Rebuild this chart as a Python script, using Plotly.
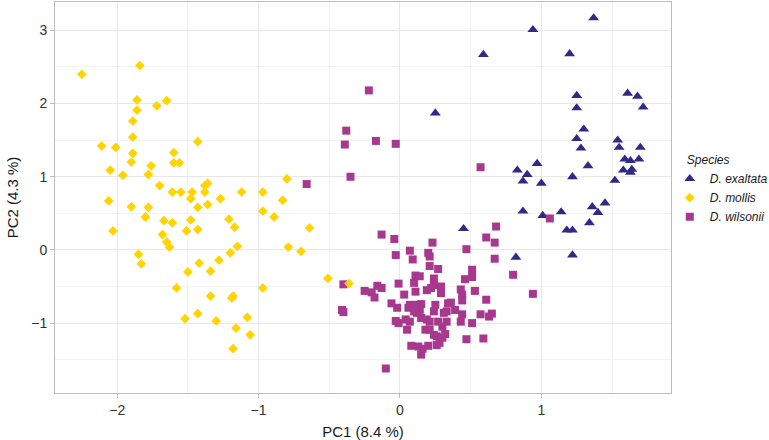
import plotly.graph_objects as go

# ---------------- data ----------------
species_names = ["D. exaltata", "D. mollis", "D. wilsonii"]

exaltata_pc1 = [1.37, 0.94, 0.59, 1.20, 1.25, 1.61, 1.68, 1.72, 1.25, 1.30, 1.25, 1.54, 1.28, 1.55,
                1.70, 1.59, 1.63, 1.69, 0.97, 1.33, 0.83, 0.90, 0.87, 1.00, 1.22, 1.58, 1.64, 1.63,
                1.52, 0.87, 1.01, 1.14, 1.36, 1.45, 1.40, 1.34, 1.18, 1.22, 0.45, 0.82, 1.22, 0.25]
exaltata_pc2 = [3.17, 3.01, 2.67, 2.68, 2.11, 2.14, 2.10, 1.95, 1.94, 1.65, 1.52, 1.50, 1.39, 1.40,
                1.40, 1.24, 1.22, 1.24, 1.18, 1.15, 1.09, 1.03, 0.94, 0.91, 1.00, 1.09, 1.10, 1.06,
                0.95, 0.53, 0.47, 0.52, 0.59, 0.64, 0.51, 0.37, 0.27, 0.27, 0.29, -0.10, -0.07, 1.87]

mollis_pc1 = [-2.25, -1.84, -1.86, -1.86, -1.65, -1.72, -1.89, -1.89, -2.11, -2.01, -1.89, -1.90,
              -1.43, -1.60, -1.60, -1.56, -2.05, -1.96, -1.76, -1.78, -1.70, -1.61, -1.55, -1.47,
              -1.48, -1.43, -2.06, -1.90, -1.78, -1.80, -1.67, -1.61, -1.48, -1.51, -1.43, -2.03,
              -1.68, -1.65, -1.63, -1.85, -1.83, -1.42, -1.50, -1.58, -1.52, -1.43, -1.38, -1.36,
              -1.38, -1.36, -1.27, -1.12, -0.97, -0.83, -0.97, -0.89, -1.21, -1.17, -0.64, -1.15,
              -1.20, -0.79, -0.70, -1.34, -1.28, -0.97, -0.51, -0.36, -1.34, -1.19, -1.18, -1.30,
              -1.08, -1.16, -1.06, -1.18, -0.80]
mollis_pc2 = [2.40, 2.52, 2.05, 1.91, 2.04, 1.97, 1.76, 1.54, 1.42, 1.40, 1.32, 1.20,
              1.48, 1.33, 1.19, 1.19, 1.09, 1.02, 1.15, 1.03, 0.88, 0.79, 0.79, 0.79,
              0.70, 0.58, 0.67, 0.59, 0.58, 0.45, 0.40, 0.37, 0.41, 0.26, 0.28, 0.26,
              0.21, 0.11, 0.04, -0.06, -0.19, -0.18, -0.30, -0.52, -0.94, -0.87, 0.88, 0.91,
              0.79, 0.62, 0.70, 0.79, 0.79, 0.68, 0.53, 0.45, 0.42, 0.31, 0.30, 0.05,
              -0.04, 0.04, -0.02, -0.29, -0.14, -0.52, -0.39, -0.46, -0.63, -0.66, -0.63, -0.97,
              -0.92, -1.07, -1.16, -1.35, 0.97]

wilsonii_pc1 = [-0.22, -0.38, -0.39, -0.17, -0.03, -0.35, -0.66, 0.57, 1.06, 0.68, 0.61, 0.67,
                0.47, 0.67, 0.80, 0.94, -0.13, -0.04, 0.23, -0.40, -0.41, -0.40, -0.10,
                -0.03, 0.07, 0.09, 0.20, 0.21, 0.21, 0.27, 0.11, 0.14, 0.24, 0.10, -0.01,
                0.24, 0.22, 0.11, 0.19, 0.29, -0.16, -0.25, -0.20, -0.13, -0.18, 0.03, -0.06,
                -0.02, 0.07, 0.06, 0.11, 0.15, 0.14, 0.10, 0.12, 0.25, 0.24, 0.31, 0.34,
                -0.03, -0.01, 0.04, 0.07, 0.05, 0.15, 0.19, 0.21, 0.27, 0.30, 0.33, 0.18,
                0.21, 0.24, 0.26, 0.30, 0.08, 0.13, 0.16, 0.15, 0.20, 0.26,
                0.51, 0.51, 0.46, 0.29, 0.43, 0.44, 0.44, 0.53, 0.61, 0.36, 0.33, 0.39,
                0.44, 0.57, 0.65, 0.63, 0.43, 0.51, 0.32, 0.47, 0.59, 0.28]
wilsonii_pc2 = [2.18, 1.63, 1.44, 1.49, 1.45, 1.00, 0.90, 1.13, 0.43, 0.32, 0.17, 0.10,
                0.01, -0.12, -0.34, -0.60, 0.21, 0.15, 0.10, -0.47, -0.82, -0.85, -1.62,
                -0.07, -0.01, -0.13, -0.04, -0.09, -0.22, -0.26, -0.35, -0.36, -0.39, -0.45, -0.46,
                -0.48, -0.52, -0.57, -0.55, -0.59, -0.49, -0.56, -0.58, -0.52, -0.65, -0.61, -0.73,
                -0.79, -0.75, -0.79, -0.75, -0.74, -0.82, -0.84, -0.86, -0.75, -0.84, -0.86, -0.73,
                -0.97, -1.00, -0.95, -0.98, -1.09, -0.93, -0.95, -0.98, -0.98, -1.05, -0.98, -1.09,
                -1.09, -1.16, -1.18, -1.20, -1.31, -1.32, -1.35, -1.43, -1.31, -1.30,
                -0.27, -0.37, -0.40, -0.50, -0.54, -0.61, -0.69, -0.56, -0.68, -0.72, -0.84, -0.82,
                -0.88, -0.88, -0.87, -0.91, -0.98, -1.00, -1.15, -1.22, -1.21, -1.27]

x_title = "PC1 (8.4 %)"
y_title = "PC2 (4.3 %)"
legend_title = "Species"

# ---------------- styles ----------------
col_exa = "#2e2a86"
col_mol = "#ffd400"
col_wil = "#a8388e"

fig = go.Figure()
fig.add_trace(go.Scatter(x=exaltata_pc1, y=exaltata_pc2, mode="markers", name=species_names[0],
                         marker=dict(symbol="triangle-up", size=9.5, color=col_exa, line=dict(width=0)),
                         legendrank=1))
fig.add_trace(go.Scatter(x=wilsonii_pc1, y=wilsonii_pc2, mode="markers", name=species_names[2],
                         marker=dict(symbol="square", size=8, color=col_wil, line=dict(width=0)),
                         legendrank=3))
fig.add_trace(go.Scatter(x=mollis_pc1, y=mollis_pc2, mode="markers", name=species_names[1],
                         marker=dict(symbol="diamond", size=7.5, color=col_mol, line=dict(width=0)),
                         legendrank=2))

axis_common = dict(
    showline=True, mirror=True, linecolor="#bdbdbd", linewidth=1,
    showgrid=True, gridcolor="#e8e8e8", gridwidth=1,
    zeroline=False, automargin=False,
    ticks="outside", ticklen=4, tickcolor="#bdbdbd", tickwidth=1,
    tickfont=dict(family="Liberation Sans, Arial, sans-serif", size=14, color="#333333"),
    dtick=1,
    minor=dict(dtick=0.5, showgrid=True, gridcolor="#f3f3f3", gridwidth=1, ticks=""),
)

fig.update_layout(
    width=769, height=440,
    margin=dict(l=55, r=98, t=2, b=47),
    paper_bgcolor="white", plot_bgcolor="white",
    font=dict(family="Liberation Sans, Arial, sans-serif", size=14, color="#1a1a1a"),
    xaxis=dict(axis_common, range=[-2.44, 1.917], tick0=0,
               title=dict(text=x_title, font=dict(size=15, color="#1a1a1a"), standoff=10)),
    yaxis=dict(axis_common, range=[-1.955, 3.388], tick0=0,
               title=dict(text=y_title, font=dict(size=15, color="#1a1a1a"), standoff=8)),
    legend=dict(
        title=dict(text=legend_title, font=dict(size=12, color="#1a1a1a", style="italic")),
        font=dict(size=12, color="#1a1a1a", style="italic"),
        xref="container", yref="container",
        x=0.8905, xanchor="left", y=0.568, yanchor="middle",
        bgcolor="rgba(0,0,0,0)", indentation=-15,
    ),
    showlegend=True,
)

fig.write_html("out.html", config={"displayModeBar": False},
               post_script="document.body.style.margin='0';document.body.style.padding='0';")
